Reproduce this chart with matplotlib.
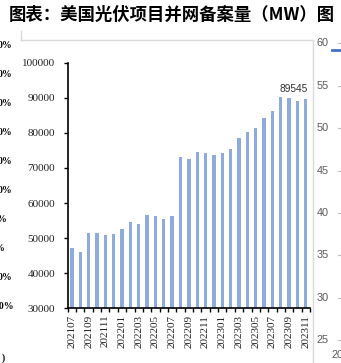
import matplotlib
matplotlib.use('Agg')
import matplotlib.pyplot as plt
from matplotlib.lines import Line2D
import numpy as np

# ---- data ----
months = ['202107', '202108', '202109', '202110', '202111', '202112',
          '202201', '202202', '202203', '202204', '202205', '202206',
          '202207', '202208', '202209', '202210', '202211', '202212',
          '202301', '202302', '202303', '202304', '202305', '202306',
          '202307', '202308', '202309', '202310', '202311']
values = [47300, 46000, 51400, 51600, 51000, 51200,
          52500, 54500, 54000, 56600, 56400, 55500,
          56300, 73100, 72500, 74600, 74400, 73800,
          74200, 75400, 78500, 80300, 81300, 84200,
          86300, 90200, 90000, 89100, 89545]
y_ticks = [30000, 40000, 50000, 60000, 70000, 80000, 90000, 100000]
title = '图表：美国光伏项目并网备案量（MW）图'
right_labels = ['60', '55', '50', '45', '40', '35', '30', '25']
left_labels = ['0%', '0%', '0%', '0%', '0%', '0%', '%', '%', '0%', '00%']

W, H = 341, 363
fig = plt.figure(figsize=(W / 100, H / 100), dpi=100)
fig.patch.set_facecolor('white')


def fx(px):
    return px / W


def fy(py):
    return 1 - py / H


# ---- main chart ----
L, R, T, B = 67.7, 310.0, 62.7, 308.4
ax = fig.add_axes([fx(L), fy(B), fx(R) - fx(L), fy(T) - fy(B)])
x = np.arange(len(values))
ax.bar(x, values, width=0.4, color='#8FAADC', zorder=2)
ax.set_xlim(-0.5, len(values) - 0.5)
ax.set_ylim(y_ticks[0], y_ticks[-1])
ax.set_yticks(y_ticks)
ax.set_yticklabels([str(v) for v in y_ticks], family='Liberation Serif',
                   fontsize=8, color='#222222')
ax.set_xticks(x[::2])
ax.set_xticklabels(months[::2], rotation=90, family='Liberation Serif',
                   fontsize=8, color='#222222')
ax.set_xticks(np.arange(-0.5, len(values)), minor=True)
ax.tick_params(axis='x', which='major', length=0, pad=4.5)
ax.tick_params(axis='x', which='minor', length=3, width=1, direction='out')
ax.tick_params(axis='y', length=3, width=1, pad=6, direction='out')
for s in ['top', 'right']:
    ax.spines[s].set_visible(False)
for s in ['left', 'bottom']:
    ax.spines[s].set_color('black')
    ax.spines[s].set_linewidth(1.2)
ax.patch.set_alpha(0)

ax.annotate(str(values[-1]), xy=(x[-1] + 0.2, values[-1]), xytext=(0, 4),
            textcoords='offset points', ha='right', va='bottom',
            family='Liberation Sans', fontsize=7.3, color='#333333')

# ---- surrounding page context ----
fig.text(fx(9), fy(15), title, family=['Noto Sans CJK SC', 'DejaVu Sans'],
         fontweight='bold', fontsize=12.5, ha='left', va='center', color='black')

gray = '#D9D9D9'
fig.add_artist(Line2D([fx(21), fx(313)], [fy(40), fy(40)], color=gray, lw=1))
fig.add_artist(Line2D([fx(21), fx(21)], [fy(31), fy(40)], color=gray, lw=1))
fig.add_artist(Line2D([fx(313), fx(313)], [fy(40), fy(363)], color=gray, lw=1))

# right-hand neighbour chart axis labels
for i, lab in enumerate(right_labels):
    yy = 43.3 + i * 42.4
    fig.text(fx(316.5), fy(yy), lab, family='Liberation Sans', fontsize=7.8,
             color='#595959', ha='left', va='center')
    fig.add_artist(Line2D([fx(338), fx(341)], [fy(yy), fy(yy)], color='#BFBFBF', lw=0.8))
fig.text(fx(331.5), fy(355), '2020', family='Liberation Sans', fontsize=7.8,
         color='#595959', ha='left', va='center')
fig.add_artist(Line2D([fx(332), fx(341)], [fy(50), fy(50)], color='#4472C4', lw=2))

# left-hand neighbour chart axis labels (cropped)
left_x = [12, 12, 12, 12, 12, 12, 7, 5, 12, 14]
for i, lab in enumerate(left_labels):
    yy = 45 + i * 29.1
    fig.text(fx(left_x[i]), fy(yy), lab, family='Liberation Serif', fontweight='bold',
             fontsize=7, color='black', ha='right', va='center')
fig.text(fx(5), fy(358), ')', family='Liberation Serif', fontweight='bold',
         fontsize=7, color='black', ha='right', va='center')

fig.savefig('out.png', dpi=100, facecolor='white')
